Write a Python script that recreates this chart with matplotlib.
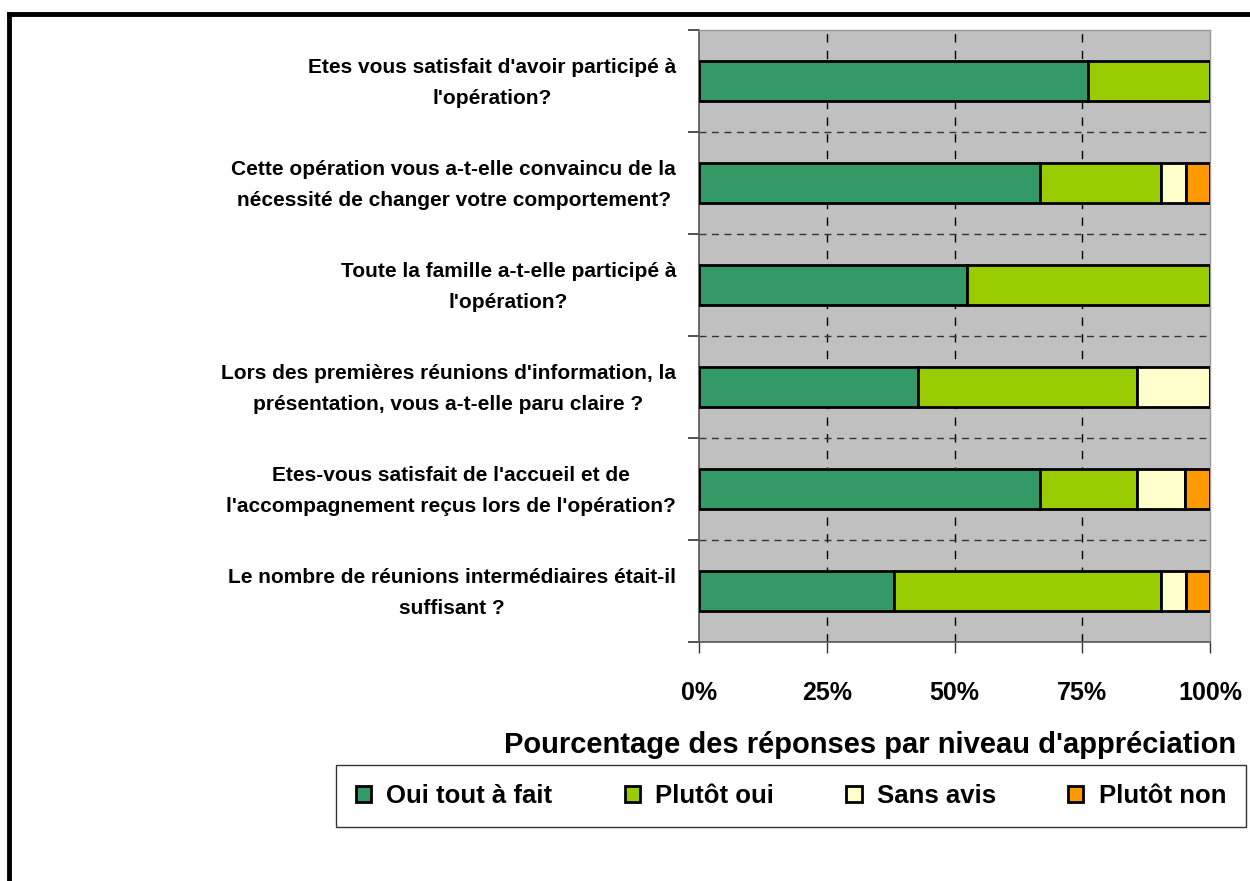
import numpy as np
import matplotlib.pyplot as plt
import matplotlib.transforms as mtransforms
from matplotlib.lines import Line2D

plt.rcParams['font.family'] = ['Liberation Sans', 'DejaVu Sans']

questions = [
    "Etes vous satisfait d'avoir participé à\nl'opération?",
    "Cette opération vous a-t-elle convaincu de la\nnécessité de changer votre comportement?",
    "Toute la famille a-t-elle participé à\nl'opération?",
    "Lors des premières réunions d'information, la\nprésentation, vous a-t-elle paru claire ?",
    "Etes-vous satisfait de l'accueil et de\nl'accompagnement reçus lors de l'opération?",
    "Le nombre de réunions intermédiaires était-il\nsuffisant ?",
]
levels = ['Oui tout à fait', 'Plutôt oui', 'Sans avis', 'Plutôt non']
colors = ['#339966', '#99CC00', '#FFFFCC', '#FF9900']

# share of answers per level (%)
oui_tout_a_fait = [76.2, 66.7, 52.4, 42.9, 66.7, 38.1]
plutot_oui = [23.8, 23.8, 47.6, 42.9, 19.0, 52.4]
sans_avis = [0.0, 4.8, 0.0, 14.2, 9.5, 4.8]
plutot_non = [0.0, 4.7, 0.0, 0.0, 4.8, 4.7]
series = [oui_tout_a_fait, plutot_oui, sans_avis, plutot_non]

fig = plt.figure(figsize=(12.5, 8.81), dpi=100)
ax = fig.add_axes([0.5592, 0.2713, 0.4088, 0.6947])
ax.set_facecolor('#C0C0C0')

y = np.arange(len(questions))
left = np.zeros(len(questions))
for vals, col, lab in zip(series, colors, levels):
    vals = np.array(vals)
    ax.barh(y, vals, left=left, height=0.4, color=col, edgecolor='black',
            linewidth=2, label=lab, zorder=3)
    left += vals

ax.set_xlim(0, 100)
ax.set_ylim(len(questions) - 0.5, -0.5)

# grid
for xv in [25, 50, 75]:
    ax.axvline(xv, color='black', linestyle=(0, (6, 6)), linewidth=1, zorder=1)
for yv in np.arange(0.5, len(questions) - 0.5, 1):
    ax.axhline(yv, color='#333333', linestyle=(0, (5, 4)), linewidth=1, zorder=1)

ax.set_xticks([0, 25, 50, 75, 100])
ax.set_xticklabels(['0%', '25%', '50%', '75%', '100%'], fontsize=18, fontweight='bold')
ax.tick_params(axis='x', direction='out', length=8, width=1, pad=20, colors='#333333',
               labelcolor='black')

# question labels: right-aligned block, lines centred
ax.set_yticks([])
ax.set_yticks(np.arange(-0.5, len(questions), 1), minor=True)
ax.tick_params(axis='y', which='minor', direction='out', length=8, width=1.2,
               colors='#333333')
trans = mtransforms.blended_transform_factory(ax.transAxes, ax.transData)
for yi, q in zip(y, questions):
    ax.text(-0.045, yi + 0.02, q, transform=trans, ha='right', va='center',
            multialignment='center', fontsize=15, fontweight='bold', linespacing=1.75)

for s in ['top', 'right']:
    ax.spines[s].set_color('#999999')
    ax.spines[s].set_linewidth(1)
for s in ['left', 'bottom']:
    ax.spines[s].set_color('#555555')
    ax.spines[s].set_linewidth(1.2)

fig.text(870 / 1250, 1 - 753 / 881, "Pourcentage des réponses par niveau d'appréciation",
         fontsize=21, fontweight='bold', ha='center', va='baseline')

leg = fig.legend(loc='center', bbox_to_anchor=(791 / 1250, 1 - 796 / 881), ncol=4,
                 frameon=True, fancybox=False, edgecolor='black',
                 handlelength=0.6, handleheight=0.6, handletextpad=0.6,
                 columnspacing=2.8, borderpad=0.75,
                 prop={'weight': 'bold', 'size': 18.5})
leg.get_frame().set_linewidth(1)

# outer chart border (only left and top fall inside the image)
fig.add_artist(Line2D([9 / 1250, 9 / 1250], [0, 1 - 14 / 881], transform=fig.transFigure,
                      color='black', linewidth=3.5, solid_capstyle='projecting'))
fig.add_artist(Line2D([9 / 1250, 1], [1 - 14 / 881, 1 - 14 / 881], transform=fig.transFigure,
                      color='black', linewidth=3.5, solid_capstyle='projecting'))

fig.savefig('out.png', dpi=100)
